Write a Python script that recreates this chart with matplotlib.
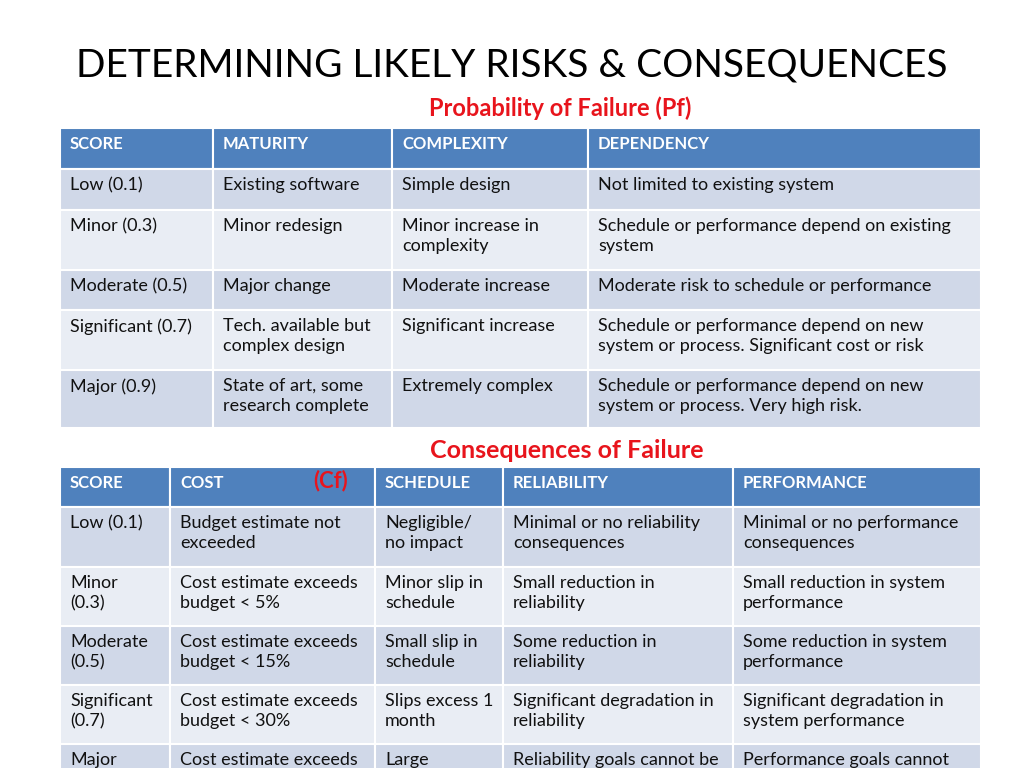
import matplotlib
matplotlib.use("Agg")
import matplotlib.pyplot as plt
from matplotlib.patches import Rectangle

title = "DETERMINING LIKELY RISKS & CONSEQUENCES"
sub1 = "Probability of Failure (Pf)"
sub2 = "Consequences of Failure"
sub2b = "(Cf)"

t1_header = ["SCORE", "MATURITY", "COMPLEXITY", "DEPENDENCY"]
t1_rows = [
    ["Low (0.1)", "Existing software", "Simple design", "Not limited to existing system"],
    ["Minor (0.3)", "Minor redesign", "Minor increase in\ncomplexity", "Schedule or performance depend on existing\nsystem"],
    ["Moderate (0.5)", "Major change", "Moderate increase", "Moderate risk to schedule or performance"],
    ["Significant (0.7)", "Tech. available but\ncomplex design", "Significant increase", "Schedule or performance depend on new\nsystem or process. Significant cost or risk"],
    ["Major (0.9)", "State of art, some\nresearch complete", "Extremely complex", "Schedule or performance depend on new\nsystem or process. Very high risk."],
]
t2_header = ["SCORE", "COST", "SCHEDULE", "RELIABILITY", "PERFORMANCE"]
t2_rows = [
    ["Low (0.1)", "Budget estimate not\nexceeded", "Negligible/\nno impact", "Minimal or no reliability\nconsequences", "Minimal or no performance\nconsequences"],
    ["Minor\n(0.3)", "Cost estimate exceeds\nbudget < 5%", "Minor slip in\nschedule", "Small reduction in\nreliability", "Small reduction in system\nperformance"],
    ["Moderate\n(0.5)", "Cost estimate exceeds\nbudget < 15%", "Small slip in\nschedule", "Some reduction in\nreliability", "Some reduction in system\nperformance"],
    ["Significant\n(0.7)", "Cost estimate exceeds\nbudget < 30%", "Slips excess 1\nmonth", "Significant degradation in\nreliability", "Significant degradation in\nsystem performance"],
    ["Major", "Cost estimate exceeds", "Large", "Reliability goals cannot be", "Performance goals cannot"],
]

HEAD = "#4F81BD"; DARK = "#D0D8E8"; LIGHT = "#E9EDF4"
FONT = "Lato"

fig = plt.figure(figsize=(10.24, 7.68), dpi=100)
ax = fig.add_axes([0, 0, 1, 1])
ax.set_xlim(0, 1024); ax.set_ylim(768, 0); ax.axis("off")

def table(cols, header, rows, hy, row_tops):
    ys = [hy] + row_tops
    for r, (y0, y1) in enumerate(zip(ys[:-1], ys[1:])):
        color = HEAD if r == 0 else (DARK if r % 2 == 1 else LIGHT)
        cells = header if r == 0 else rows[r - 1]
        for c in range(len(cols) - 1):
            ax.add_patch(Rectangle((cols[c], y0), cols[c+1]-cols[c], y1-y0,
                                   facecolor=color, edgecolor="white", lw=1.5))
            ax.text(cols[c] + 10, y0 + 8, cells[c], va="top", ha="left",
                    fontsize=12 if r == 0 else 13, family=FONT,
                    fontweight="bold" if r == 0 else "normal",
                    color="white" if r == 0 else "#111111", linespacing=1.3)

ax.text(512, 65, title, ha="center", va="center", fontsize=28, family=FONT)
ax.text(560, 108, sub1, ha="center", va="center", fontsize=17, family=FONT,
        fontweight="bold", color="#E8141C")
table([60, 213, 392, 588, 981], t1_header, t1_rows, 128, [169, 210, 270, 310, 370, 428])
ax.text(567, 451, sub2, ha="center", va="center", fontsize=18, family=FONT,
        fontweight="bold", color="#E8141C")
table([60, 170, 375, 503, 733, 981], t2_header, t2_rows, 467, [507, 567, 626, 685, 744, 800])
ax.text(331, 481, sub2b, ha="center", va="center", fontsize=16, family=FONT,
        fontweight="bold", color="#E8141C")

fig.savefig("out.png", dpi=100)
